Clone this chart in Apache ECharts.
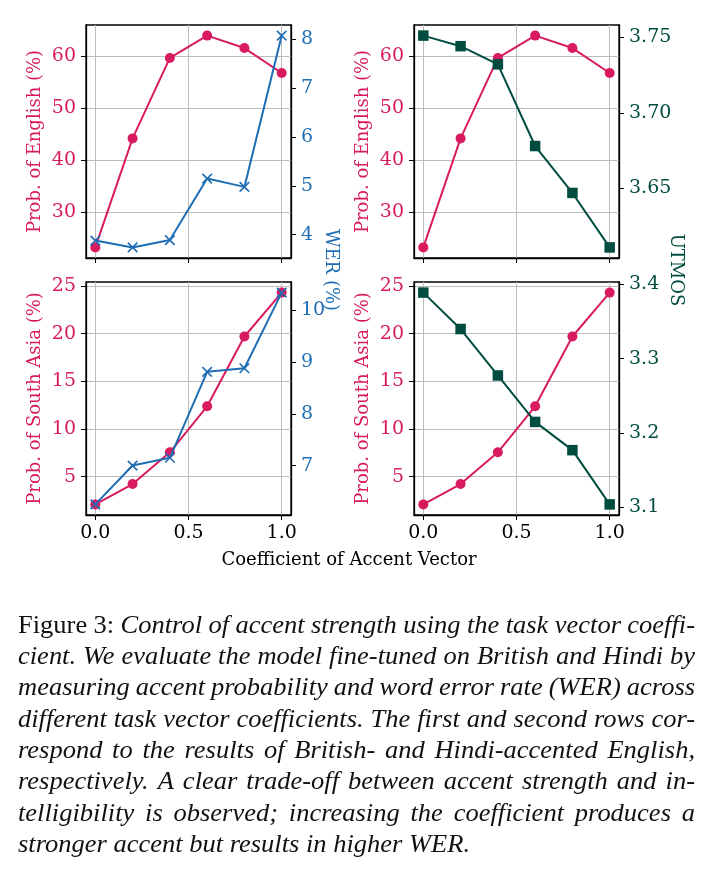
<!DOCTYPE html>
<html>
<head>
<meta charset="utf-8">
<script src="https://cdn.jsdelivr.net/npm/echarts@6/dist/echarts.min.js"></script>
<style>
html,body{margin:0;padding:0;background:#fff;}
#chart{width:712px;height:873px;}
</style>
</head>
<body>
<div id="chart"></div>
<script>
// ---------- data ----------
const coef = [0.0, 0.2, 0.4, 0.6, 0.8, 1.0];
const engProb  = [23.2, 44.2, 59.7, 64.0, 61.6, 56.8];
const engWER   = [3.88, 3.74, 3.89, 5.15, 4.98, 8.08];
const engUTMOS = [3.751, 3.744, 3.732, 3.678, 3.647, 3.611];
const hinProb  = [2.1, 4.23, 7.56, 12.38, 19.7, 24.3];
const hinWER   = [6.25, 7.0, 7.15, 8.81, 8.88, 10.34];
const hinUTMOS = [3.389, 3.340, 3.2775, 3.215, 3.177, 3.104];

const xTicks = [0.0, 0.5, 1.0];
const engProbTicks = [30, 40, 50, 60];
const engWERTicks = [4, 5, 6, 7, 8];
const engUTMOSTicks = [3.65, 3.70, 3.75];
const hinProbTicks = [5, 10, 15, 20, 25];
const hinWERTicks = [7, 8, 9, 10];
const hinUTMOSTicks = [3.1, 3.2, 3.3, 3.4];

const xLabel = 'Coefficient of Accent Vector';
const engLabel = 'Prob. of English (%)';
const hinLabel = 'Prob. of South Asia (%)';
const werLabel = 'WER (%)';
const utmosLabel = 'UTMOS';

const captionLines = [
  [['Figure 3:', false], ['Control of accent strength using the task vector coeffi-', true]],
  [['cient. We evaluate the model fine-tuned on British and Hindi by', true]],
  [['measuring accent probability and word error rate (WER) across', true]],
  [['different task vector coefficients. The first and second rows cor-', true]],
  [['respond to the results of British- and Hindi-accented English,', true]],
  [['respectively. A clear trade-off between accent strength and in-', true]],
  [['telligibility is observed; increasing the coefficient produces a', true]],
  [['stronger accent but results in higher WER.', true]]
];

// ---------- style ----------
const FONT = 'DejaVu Serif';
const TFS = 19;   // tick labels
const LFS = 18;   // axis titles
const PINK = '#D81B60';
const BLUE = '#1f6db3';
const GREEN = '#004D40';
const GRIDC = '#bdbdbd';

const grids = [
  {left: 86,  top: 25,  width: 205, height: 233},
  {left: 414, top: 25,  width: 205, height: 233},
  {left: 86,  top: 282, width: 205, height: 233},
  {left: 414, top: 282, width: 205, height: 233}
];

function pad(arr) {
  const mn = Math.min(...arr), mx = Math.max(...arr), p = (mx - mn) * 0.05;
  return [mn - p, mx + p];
}
function pairs(xs, ys) { return xs.map((x, i) => [x, ys[i]]); }

function xAxis(gi, showLabels) {
  const r = pad(coef);
  return {
    type: 'value', gridIndex: gi, min: r[0], max: r[1],
    axisLine: {show: true, onZero: false, lineStyle: {color: '#000', width: 1.3}},
    axisTick: {show: true, length: 5, customValues: xTicks, lineStyle: {color: '#000', width: 1}},
    axisLabel: {show: showLabels, customValues: xTicks, formatter: v => v.toFixed(1),
      color: '#000', fontFamily: FONT, fontSize: TFS, margin: 9},
    splitLine: {show: true, lineStyle: {color: GRIDC, width: 1}}
  };
}
function yAxis(gi, pos, data, ticks, color, dec, split) {
  const r = pad(data);
  return {
    type: 'value', gridIndex: gi, position: pos, min: r[0], max: r[1],
    axisLine: {show: true, onZero: false, lineStyle: {color: '#000', width: 1.3}},
    axisTick: {show: true, length: 5, customValues: ticks, lineStyle: {color: '#000', width: 1}},
    axisLabel: {show: true, customValues: ticks, formatter: v => v.toFixed(dec),
      color: color, fontFamily: FONT, fontSize: TFS, margin: 10},
    splitLine: {show: split, lineStyle: {color: GRIDC, width: 1}}
  };
}

const XSYM = 'path://M0,0L10,10M0,10L10,0';
function lineSeries(xi, yi, data, color, kind) {
  const s = {
    type: 'line', xAxisIndex: xi, yAxisIndex: yi, data: data,
    lineStyle: {color: color, width: 2},
    itemStyle: {color: color},
    animation: false, z: 3
  };
  if (kind === 'circle') { s.symbol = 'circle'; s.symbolSize = 10; }
  if (kind === 'square') { s.symbol = 'rect'; s.symbolSize = 10.5; s.z = 4; }
  if (kind === 'x') {
    s.symbol = XSYM; s.symbolSize = 9.5; s.z = 4;
    s.itemStyle = {color: 'none', borderColor: color, borderWidth: 1.6};
  }
  return s;
}

// ---------- graphic texts ----------
const graphics = [];
function rotText(text, x, y, rot, color) {
  graphics.push({type: 'text', x: x, y: y, rotation: rot, silent: true,
    style: {text: text, fill: color, font: LFS + 'px "' + FONT + '"', textAlign: 'center', textVerticalAlign: 'middle'}});
}
const midTop = grids[0].top + grids[0].height / 2;
const midBot = grids[2].top + grids[2].height / 2;
const midAll = (grids[0].top + grids[2].top + grids[2].height) / 2;
rotText(engLabel, grids[0].left - 50.5, midTop, Math.PI / 2, PINK);
rotText(engLabel, grids[1].left - 50.5, midTop, Math.PI / 2, PINK);
rotText(hinLabel, grids[2].left - 50.5, midBot, Math.PI / 2, PINK);
rotText(hinLabel, grids[3].left - 50.5, midBot, Math.PI / 2, PINK);
rotText(werLabel, grids[0].left + grids[0].width + 40, midAll, -Math.PI / 2, BLUE);
rotText(utmosLabel, grids[1].left + grids[1].width + 57, midAll, -Math.PI / 2, GREEN);
rotText(xLabel, 349, 560, 0, '#000');

// caption (justified)
const CAP_FS = 26;
const CAP_L = 18, CAP_R = 695, CAP_TOP = 626, CAP_LH = 31.3;
const ctx = document.createElement('canvas').getContext('2d');
function capFont(it) { return (it ? 'italic ' : '') + CAP_FS + 'px "Liberation Serif"'; }
function measure(w, it) { ctx.font = capFont(it); return ctx.measureText(w).width; }
function wordsOf(line) {
  const out = [];
  line.forEach(seg => seg[0].split(' ').forEach(w => out.push([w, seg[1]])));
  return out;
}
const lastWords = wordsOf(captionLines[captionLines.length - 1]);
const spaceW = measure(' ', true);
let lastNat = 0;
lastWords.forEach((w, i) => { lastNat += measure(w[0], w[1]) + (i ? spaceW : 0); });
const SX = 452 / lastNat;
captionLines.forEach((line, li) => {
  const words = wordsOf(line);
  const widths = words.map(w => measure(w[0], w[1]) * SX);
  const sum = widths.reduce((a, b) => a + b, 0);
  const justify = li < captionLines.length - 1;
  const gap = justify ? (CAP_R - CAP_L - sum) / (words.length - 1) : spaceW * SX;
  let x = CAP_L;
  words.forEach((w, i) => {
    graphics.push({type: 'text', x: x, y: CAP_TOP + li * CAP_LH, scaleX: SX, silent: true,
      style: {text: w[0], fill: '#111', font: capFont(w[1]), textAlign: 'left', textVerticalAlign: 'middle'}});
    x += widths[i] + gap;
  });
});

const option = {
  animation: false,
  backgroundColor: '#fff',
  grid: grids.map(g => Object.assign({show: true, borderColor: '#000', borderWidth: 1.3, backgroundColor: 'transparent', containLabel: false}, g)),
  xAxis: [xAxis(0, false), xAxis(1, false), xAxis(2, true), xAxis(3, true)],
  yAxis: [
    yAxis(0, 'left', engProb, engProbTicks, PINK, 0, true),
    yAxis(0, 'right', engWER, engWERTicks, BLUE, 0, false),
    yAxis(1, 'left', engProb, engProbTicks, PINK, 0, true),
    yAxis(1, 'right', engUTMOS, engUTMOSTicks, GREEN, 2, false),
    yAxis(2, 'left', hinProb, hinProbTicks, PINK, 0, true),
    yAxis(2, 'right', hinWER, hinWERTicks, BLUE, 0, false),
    yAxis(3, 'left', hinProb, hinProbTicks, PINK, 0, true),
    yAxis(3, 'right', hinUTMOS, hinUTMOSTicks, GREEN, 1, false)
  ],
  series: [
    lineSeries(0, 0, pairs(coef, engProb), PINK, 'circle'),
    lineSeries(0, 1, pairs(coef, engWER), BLUE, 'x'),
    lineSeries(1, 2, pairs(coef, engProb), PINK, 'circle'),
    lineSeries(1, 3, pairs(coef, engUTMOS), GREEN, 'square'),
    lineSeries(2, 4, pairs(coef, hinProb), PINK, 'circle'),
    lineSeries(2, 5, pairs(coef, hinWER), BLUE, 'x'),
    lineSeries(3, 6, pairs(coef, hinProb), PINK, 'circle'),
    lineSeries(3, 7, pairs(coef, hinUTMOS), GREEN, 'square')
  ],
  graphic: graphics
};
const chart = echarts.init(document.getElementById('chart'), null, {renderer: 'canvas'});
chart.setOption(option);
</script>
</body>
</html>
